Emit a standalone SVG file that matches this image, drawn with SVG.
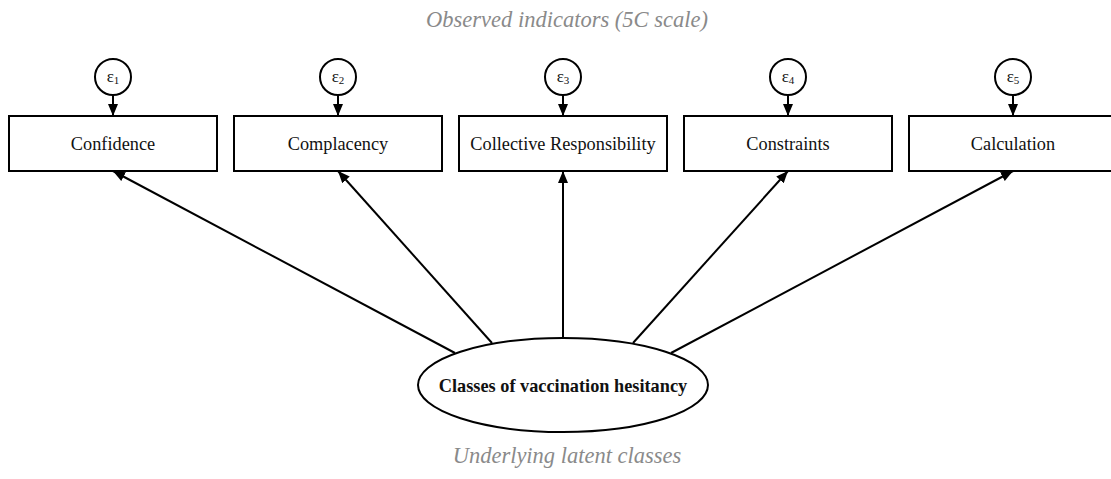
<svg xmlns="http://www.w3.org/2000/svg" width="1111" height="479" viewBox="0 0 1111 479">
<style>
.box{fill:#fff;stroke:#000;stroke-width:2}
.lbl{font-family:"Liberation Serif","Times New Roman",serif;font-size:18.3px;fill:#111;text-anchor:middle}
.eps{font-family:"Liberation Serif","Times New Roman",serif;font-size:17px;fill:#111;text-anchor:middle}
.sub{font-size:11px}
.cap{font-family:"Liberation Serif","Times New Roman",serif;font-size:22.5px;font-style:italic;fill:#8a8a8a;text-anchor:middle}
.edge{stroke:#000;stroke-width:2;fill:none;marker-end:url(#ah)}
</style>
<defs>
<marker id="ah" viewBox="0 0 12 10" refX="12" refY="5" markerWidth="12" markerHeight="10" markerUnits="userSpaceOnUse" orient="auto">
<path d="M0,0 L12,5 L0,10 Z" fill="#000"/>
</marker>
</defs>
<rect width="1111" height="479" fill="#fff"/>
<text class="cap" x="567" y="27">Observed indicators (5C scale)</text>
<text class="cap" x="567" y="463">Underlying latent classes</text>
<g id="connectors">
<line class="edge" x1="113" y1="96" x2="113" y2="116"/>
<line class="edge" x1="338" y1="96" x2="338" y2="116"/>
<line class="edge" x1="563" y1="96" x2="563" y2="116"/>
<line class="edge" x1="788" y1="96" x2="788" y2="116"/>
<line class="edge" x1="1013" y1="96" x2="1013" y2="116"/>
<line class="edge" x1="455" y1="353" x2="113" y2="171"/>
<line class="edge" x1="492" y1="343" x2="338" y2="171"/>
<line class="edge" x1="563" y1="338" x2="563" y2="171"/>
<line class="edge" x1="633" y1="343" x2="788" y2="171"/>
<line class="edge" x1="671" y1="353" x2="1013" y2="171"/>
</g>
<g id="e1"><circle class="box" cx="113" cy="77" r="18"/><text class="eps" x="113" y="82">ε<tspan class="sub" dy="2">1</tspan></text></g>
<g id="e2"><circle class="box" cx="338" cy="77" r="18"/><text class="eps" x="338" y="82">ε<tspan class="sub" dy="2">2</tspan></text></g>
<g id="e3"><circle class="box" cx="563" cy="77" r="18"/><text class="eps" x="563" y="82">ε<tspan class="sub" dy="2">3</tspan></text></g>
<g id="e4"><circle class="box" cx="788" cy="77" r="18"/><text class="eps" x="788" y="82">ε<tspan class="sub" dy="2">4</tspan></text></g>
<g id="e5"><circle class="box" cx="1013" cy="77" r="18"/><text class="eps" x="1013" y="82">ε<tspan class="sub" dy="2">5</tspan></text></g>
<g id="confidence"><rect class="box" x="9" y="116" width="208" height="55"/><text class="lbl" x="113" y="150">Confidence</text></g>
<g id="complacency"><rect class="box" x="234" y="116" width="208" height="55"/><text class="lbl" x="338" y="150">Complacency</text></g>
<g id="collective"><rect class="box" x="459" y="116" width="208" height="55"/><text class="lbl" x="563" y="150">Collective Responsibility</text></g>
<g id="constraints"><rect class="box" x="684" y="116" width="208" height="55"/><text class="lbl" x="788" y="150">Constraints</text></g>
<g id="calculation"><rect class="box" x="909" y="116" width="208" height="55"/><text class="lbl" x="1013" y="150">Calculation</text></g>
<g id="classes"><ellipse class="box" cx="563" cy="385" rx="145" ry="47"/><text class="lbl" x="563" y="392" style="font-weight:bold">Classes of vaccination hesitancy</text></g>
</svg>
